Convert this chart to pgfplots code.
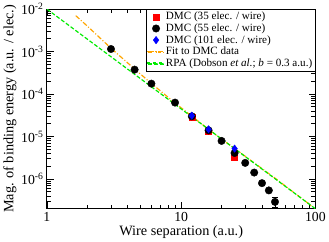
\documentclass[border=0pt]{standalone}
\usepackage{fontspec}
\setmainfont{Liberation Serif}
\usepackage{pgfplots}
\pgfplotsset{compat=1.18}
\definecolor{grOrange}{RGB}{255,165,0}
\definecolor{grGreen}{RGB}{0,235,0}
\begin{document}
\begin{tikzpicture}
\begin{axis}[
  scale only axis, width=273pt, height=203pt,
  xmode=log, ymode=log, xmin=1, xmax=100, ymin=2e-7, ymax=1e-2,
  xtick={1,10,100}, xticklabels={1,10,100},
  minor xtick={2,3,4,5,6,7,8,9,20,30,40,50,60,70,80,90},
  ytick={1e-6,1e-5,1e-4,1e-3,1e-2},
  yticklabels={10\textsuperscript{-6},10\textsuperscript{-5},10\textsuperscript{-4},10\textsuperscript{-3},10\textsuperscript{-2}},
  minor ytick={3e-7,4e-7,5e-7,6e-7,7e-7,8e-7,9e-7,2e-6,3e-6,4e-6,5e-6,6e-6,7e-6,8e-6,9e-6,2e-5,3e-5,4e-5,5e-5,6e-5,7e-5,8e-5,9e-5,2e-4,3e-4,4e-4,5e-4,6e-4,7e-4,8e-4,9e-4,2e-3,3e-3,4e-3,5e-3,6e-3,7e-3,8e-3,9e-3},
  tick align=inside, major tick length=7pt, minor tick length=4pt,
  axis line style={line width=1.1pt},
  every tick/.style={black, line width=0.8pt},
  tick label style={font=\fontsize{14}{14}\selectfont},
  xlabel={Wire separation (a.u.)},
  ylabel={Mag. of binding energy (a.u. / elec.)},
  label style={font=\fontsize{14.5}{15}\selectfont},
  xlabel style={yshift=3pt},
  ylabel style={yshift=-2pt},
  legend style={at={(rel axis cs:1,1)}, anchor=north east,
    font=\fontsize{11.3}{12}\selectfont, inner sep=1pt, row sep=-1.5pt,
    cells={anchor=west}},
  legend cell align=left,
]
\addplot[only marks, mark=square*, mark size=3pt, color=red] coordinates {
 (12,2.85e-5) (16,1.30e-5) (25,3.3e-6)};
\addlegendentry{DMC (35 elec. / wire)}
\addplot[only marks, mark=*, mark size=3.8pt, color=black,
  error bars/.cd, y dir=both, y explicit, error bar style={line width=0.8pt}, error mark options={rotate=90, mark size=3pt, line width=0.8pt}] coordinates {
 (3,1.15e-3) +- (0,0)
 (4.5,3.76e-4) +- (0,0)
 (6,1.76e-4) +- (0,0)
 (9,6.3e-5) +- (0,0)
 (12,3.0e-5) +- (0,0)
 (16,1.40e-5) +- (0,0)
 (20,7.9e-6) +- (0,0)
 (25,4.1e-6) +- (0,0)
 (30,2.4e-6) +- (0,0)
 (35,1.42e-6) +- (0,0)
 (40,8.0e-7) +- (0,0)
 (45,5.4e-7) +- (0,0)
 (50,2.9e-7) +- (0,0.7e-7)};
\addlegendentry{DMC (55 elec. / wire)}
\addplot[only marks, mark=diamond*, mark size=3.8pt, color=blue] coordinates {
 (12,3.1e-5) (16,1.48e-5) (25,5.2e-6)};
\addlegendentry{DMC (101 elec. / wire)}
\addplot[color=grOrange, line width=1.2pt, dash pattern=on 5pt off 2pt on 1pt off 2pt,
  legend image code/.code={\fill[grOrange] (0pt,-0.6pt) rectangle (6pt,0.6pt); \fill[grOrange] (8pt,-0.6pt) rectangle (9pt,0.6pt); \fill[grOrange] (11pt,-0.6pt) rectangle (16pt,0.6pt);}] coordinates {
 (1.64,7.0e-3) (2,3.98e-3) (3,1.20e-3) (4.5,3.89e-4) (6,1.78e-4) (9,6.17e-5)
 (12,3.02e-5) (16,1.48e-5) (20,8.7e-6) (25,5.25e-6) (35,2.40e-6) (50,1.05e-6)
 (70,4.68e-7) (90,2.57e-7) (95,2.19e-7)};
\addlegendentry{Fit to DMC data}
\addplot[color=grGreen, line width=1.2pt, dash pattern=on 4pt off 2pt,
  legend image code/.code={\fill[grGreen] (0pt,-0.6pt) rectangle (4pt,0.6pt); \fill[grGreen] (6pt,-0.6pt) rectangle (10pt,0.6pt); \fill[grGreen] (12pt,-0.6pt) rectangle (16pt,0.6pt);}] coordinates {
 (1,1e-2) (10,4.47e-5) (100,2.0e-7)};
\addlegendentry{RPA (Dobson \textit{et al.}; \textit{b} = 0.3 a.u.)}
\end{axis}
\end{tikzpicture}
\end{document}
